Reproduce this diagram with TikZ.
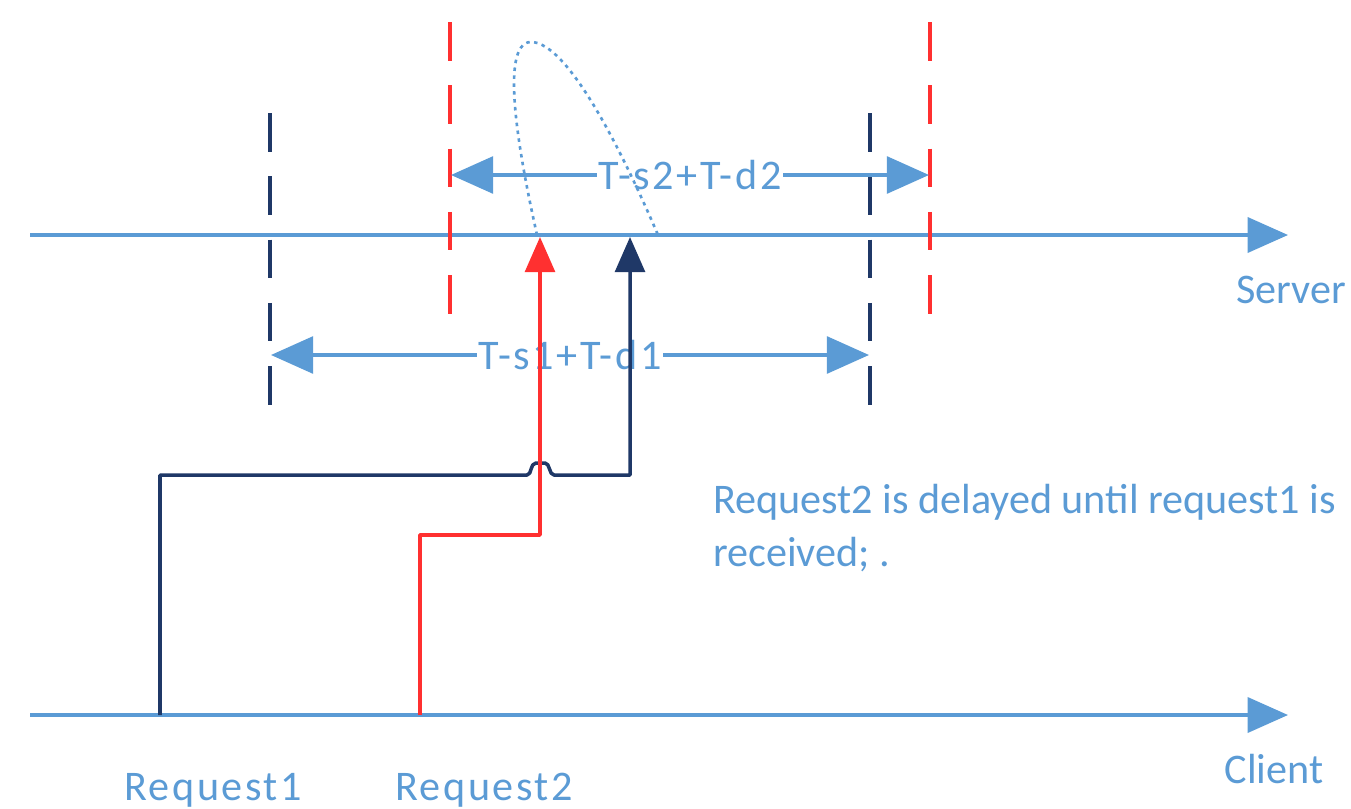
\documentclass[tikz,border=0pt]{standalone}
\usepackage{fontspec}
\setmainfont{Carlito}
\newfontfamily\widefont[LetterSpace=6]{Carlito}
\usetikzlibrary{arrows.meta}
\definecolor{axisblue}{HTML}{5B9BD5}
\definecolor{navyline}{HTML}{1F3867}
\definecolor{redline}{HTML}{FF3030}

\begin{document}
\begin{tikzpicture}[x=0.02cm, y=-0.02cm,
    axis/.style={axisblue, line width=1.9pt, -{Triangle[length=23pt, width=20pt]}},
    span/.style={axisblue, line width=1.9pt, {Triangle[length=24pt, width=21pt]}-{Triangle[length=24pt, width=21pt]}},
    tickline/.style={line width=2pt, dash pattern=on 22pt off 14pt},
    req/.style={line width=2pt, line join=round, -{Triangle[length=20pt, width=17pt]}},
    lbl/.style={text=axisblue, font=\fontsize{24}{30}\selectfont, inner sep=1pt}
]
\useasboundingbox (0,0) rectangle (1351,808);

% time lines
\coordinate (s0) at (30,235);
\coordinate (s1) at (1288,235);
\coordinate (c0) at (30,715);
\coordinate (c1) at (1288,715);
\draw[axis] (s0) -- (s1);
\draw[axis] (c0) -- (c1);
\node[lbl, anchor=base] (srv) at (1291,303) {Server};
\node[lbl, anchor=base] (cli) at (1274,783) {Client};

% window borders
\coordinate (a1) at (270,113);
\coordinate (a2) at (270,408);
\coordinate (b1) at (870,113);
\coordinate (b2) at (870,408);
\coordinate (e1) at (450,22);
\coordinate (e2) at (450,317);
\coordinate (f1) at (930,22);
\coordinate (f2) at (930,317);
\draw[tickline, navyline] (a1) -- (a2);
\draw[tickline, navyline] (b1) -- (b2);
\draw[tickline, redline] (e1) -- (e2);
\draw[tickline, redline] (f1) -- (f2);

% windows
\coordinate (w1l) at (271,355);
\coordinate (w1r) at (869,355);
\coordinate (w2l) at (451,175);
\coordinate (w2r) at (929,175);
\draw[span] (w1l) -- node[lbl, fill=white, font=\widefont\fontsize{24}{30}\selectfont] (w1) {T-s1+T-d1} (w1r);
\draw[span] (w2l) -- node[lbl, fill=white, font=\widefont\fontsize{24}{30}\selectfont] (w2) {T-s2+T-d2} (w2r);

% requests
\coordinate (r0) at (420,715);
\coordinate (r1) at (540,535);
\coordinate (r2) at (540,237);
\coordinate (n0) at (160,715);
\coordinate (n1) at (527,475);
\coordinate (n2) at (554,475);
\coordinate (n3) at (630,475);
\coordinate (n4) at (630,237);
\draw[req, navyline] (n0) |- (n1)
    .. controls (532,475) and (530,463) .. (536,463) -- (545,463)
    .. controls (550,463) and (549,475) .. (n2) -- (n3) -- (n4);
\draw[req, redline] (r0) |- (r1) -- (r2);
\node[lbl, anchor=base, font=\widefont\fontsize{24}{30}\selectfont] (q1) at (213,800) {Request1};
\node[lbl, anchor=base, font=\widefont\fontsize{24}{30}\selectfont] (q2) at (484,800) {Request2};

% delay
\coordinate (d0) at (537,235);
\coordinate (d1) at (530,42);
\coordinate (d2) at (658,235);
\draw[axisblue, line width=1.5pt, dash pattern=on 2pt off 2.5pt]
    (d0) .. controls (518,150) and (500,45) .. (d1)
    .. controls (570,40) and (630,170) .. (d2);

\node[lbl, anchor=north west, align=left] (note) at (711,482)
    {Request2 is delayed until request1 is\\received; .};
\end{tikzpicture}
\end{document}
